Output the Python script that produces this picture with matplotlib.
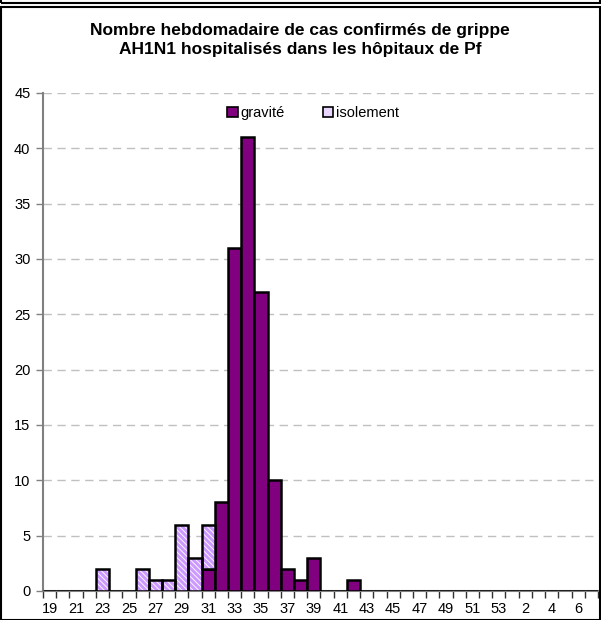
import matplotlib.pyplot as plt
import numpy as np
from matplotlib.patches import Patch, Rectangle

plt.rcParams['font.family'] = ['Liberation Sans', 'DejaVu Sans']

# weeks 19..53 then 1..7
weeks = list(range(19, 54)) + list(range(1, 8))
gravite = [0, 0, 0, 0, 0, 0, 0, 0, 0, 0, 0, 0, 2, 8, 31, 41, 27, 10, 2, 1,
           3, 0, 0, 1, 0, 0, 0, 0, 0, 0, 0, 0, 0, 0, 0, 0, 0, 0, 0, 0, 0, 0]
isolement = [0, 0, 0, 0, 2, 0, 0, 2, 1, 1, 6, 3, 4, 0, 0, 0, 0, 0, 0, 0,
             0, 0, 0, 0, 0, 0, 0, 0, 0, 0, 0, 0, 0, 0, 0, 0, 0, 0, 0, 0, 0, 0]

purple = '#800080'
lavender = '#CC99FF'

fig = plt.figure(figsize=(6.01, 6.2), dpi=100)
ax = fig.add_axes([43 / 601, 29 / 620, 555 / 601, 498 / 620])

x = np.arange(len(weeks))
grav = np.array(gravite)
iso = np.array(isolement)

plt.rcParams['hatch.linewidth'] = 2.2
ax.bar(x, grav, width=1.0, color=purple, edgecolor='black', linewidth=1.8, zorder=3)
# hatched part: draw hatch then outline
ax.bar(x, iso, width=1.0, bottom=grav, color='white', edgecolor=lavender,
       hatch='\\' * 6, linewidth=0, zorder=3)
ax.bar(x, iso, width=1.0, bottom=grav, fill=False, edgecolor=np.where(iso > 0, 'black', 'none'),
       linewidth=1.8, zorder=4)

ax.set_xlim(-0.5, len(weeks) - 0.5)
ax.set_ylim(0, 45)
ax.set_yticks(range(0, 46, 5))
ax.yaxis.grid(True, color='#c0c0c0', linestyle=(0, (6, 4)), linewidth=1)
ax.set_axisbelow(True)

ax.set_xticks(x[::2])
ax.set_xticklabels([str(w) for w in weeks[::2]])
ax.set_xticks(np.arange(len(weeks) + 1) - 0.5, minor=True)
ax.tick_params(axis='x', which='major', length=0, pad=8, labelsize=10.5)
ax.tick_params(axis='x', which='minor', length=5, width=1, color='#303030', direction='out')
ax.tick_params(axis='y', length=5, width=1, color='#808080', labelsize=10.5, pad=4)

for s in ['top', 'right']:
    ax.spines[s].set_visible(False)
ax.spines['left'].set_color('#808080')
ax.spines['left'].set_linewidth(1.5)
ax.spines['bottom'].set_color('#808080')
ax.spines['bottom'].set_linewidth(1.5)

handles = [Patch(facecolor=purple, edgecolor='black', linewidth=1.2, label='gravité'),
           Patch(facecolor='#E8D6FF', edgecolor='black', linewidth=1.2, label='isolement')]
fig.legend(handles=handles, loc='center', bbox_to_anchor=(313 / 601, 1 - 113 / 620),
           ncol=2, frameon=False, fontsize=10.5, handlelength=0.7, handleheight=0.7,
           handletextpad=0.2, columnspacing=2.6)

fig.text(300 / 601, 1 - 40 / 620,
         'Nombre hebdomadaire de cas confirmés de grippe\nAH1N1 hospitalisés dans les hôpitaux de Pf',
         ha='center', va='center', fontsize=12.5, fontweight='bold', linespacing=1.3)

fig.patches.append(Rectangle((1 / 601, 0.5 / 620), 599 / 601, 613 / 620, transform=fig.transFigure,
                             fill=False, edgecolor='black', linewidth=1.5))
fig.patches.append(Rectangle((1 / 601, 617 / 620), 599 / 601, 10 / 620, transform=fig.transFigure,
                             fill=False, edgecolor='black', linewidth=1.5))

fig.savefig('out.png', dpi=100)
